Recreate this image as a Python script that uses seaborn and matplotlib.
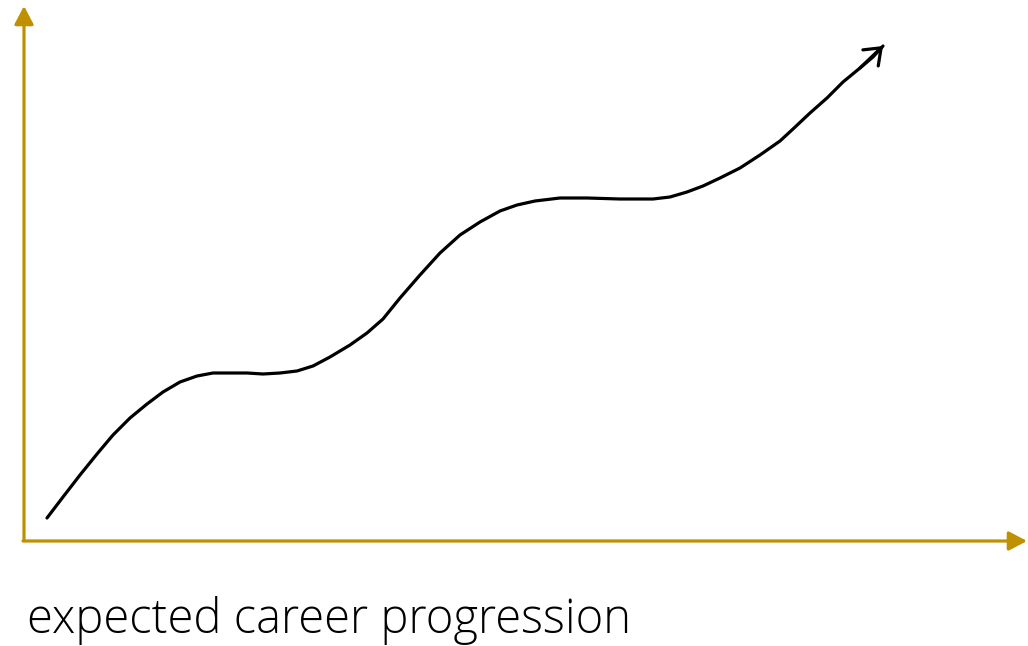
import matplotlib
matplotlib.use("Agg")
import matplotlib.pyplot as plt
import seaborn as sns
import pandas as pd

# Hand-drawn career curve (x = time, y = career level)
time = [23, 39, 56, 73, 89, 106, 123, 139, 156, 173, 189, 206, 223, 239, 256, 273,
        289, 306, 326, 343, 359, 376, 396, 416, 436, 456, 476, 493, 511, 536, 563,
        596, 629, 646, 663, 679, 696, 716, 736, 756, 769, 786, 803, 819, 836, 849, 859]
level = [23, 44, 66, 87, 106, 123, 137, 149, 159, 165, 168, 168, 168, 167, 168, 170,
         175, 184, 196, 208, 222, 243, 266, 288, 306, 319, 330, 336, 340, 343, 343,
         342, 342, 344, 349, 355, 363, 373, 386, 400, 412, 428, 443, 459, 473, 484, 495]
caption = "expected career progression"

GOLD = "#BF9000"

sns.set_theme(style="white")
fig = plt.figure(figsize=(10.28, 6.46), dpi=100)
ax = fig.add_axes([0, 0, 1, 1])
ax.set_xlim(-24, 1004)
ax.set_ylim(-105, 541)
ax.axis("off")

df = pd.DataFrame({"time": time, "level": level})
sns.lineplot(data=df, x="time", y="level", sort=False, color="black",
             linewidth=2.3, ax=ax, solid_capstyle="round", solid_joinstyle="round")

# open arrow head at the end of the curve
ax.annotate("", xy=(time[-1], level[-1]), xytext=(time[-3], level[-3]),
            arrowprops=dict(arrowstyle="->,head_length=1.05,head_width=0.8",
                            mutation_scale=10, lw=2.3, color="black",
                            shrinkA=0, shrinkB=0, capstyle="round"))

# gold axes with filled arrow heads
axis_arrow = dict(arrowstyle="-|>,head_length=1.1,head_width=0.58",
                  mutation_scale=10, lw=2.3, color=GOLD, shrinkA=0, shrinkB=0)
ax.annotate("", xy=(1003, 0), xytext=(-1, 0), arrowprops=axis_arrow)
ax.annotate("", xy=(0, 535), xytext=(0, 1), arrowprops=axis_arrow)

fig.text(27 / 1028, 1 - 633 / 646, caption, fontsize=33.9, color="#000000",
         family=["Open Sans", "DejaVu Sans"], fontweight="light",
         va="baseline", ha="left")

fig.savefig("out.png", dpi=100)
